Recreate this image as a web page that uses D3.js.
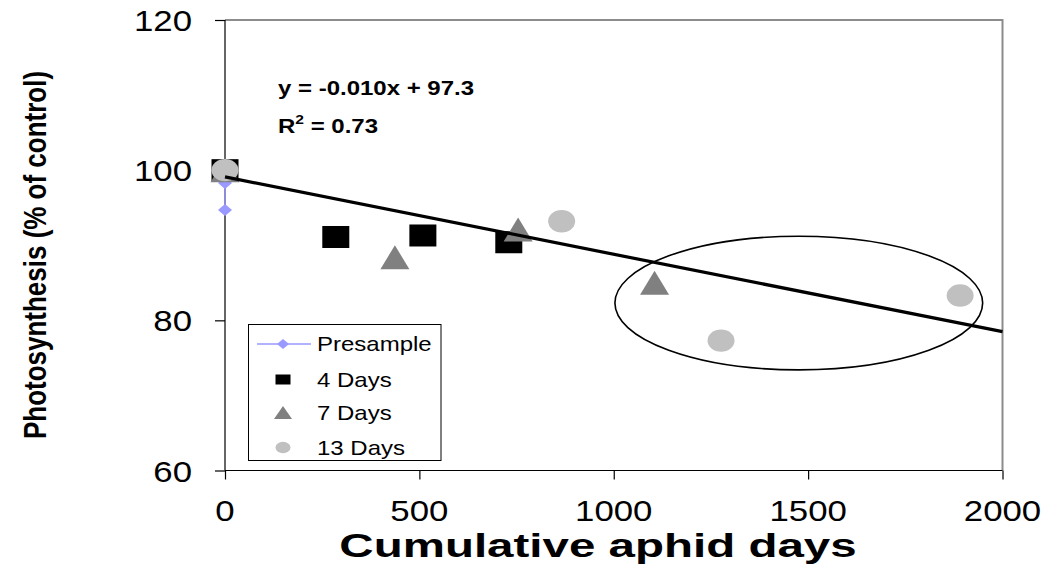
<!DOCTYPE html>
<html>
<head>
<meta charset="utf-8">
<script src="https://cdn.jsdelivr.net/npm/d3@7"></script>
<style>
  html, body { margin: 0; padding: 0; background: #fff; }
  svg { display: block; }
  text { font-family: "Liberation Sans", Arial, sans-serif; fill: #000; }
</style>
</head>
<body>
<svg id="chart" width="1048" height="588"></svg>
<script>
// ---- data ----
const xTicks = [0, 500, 1000, 1500, 2000];
const yTicks = [60, 80, 100, 120];

const presampleX = [0, 0, 0];
const presampleY = [100, 98.3, 94.7];

const days4X = [0, 285, 509, 730];
const days4Y = [100, 91.1, 91.3, 90.4];

const days7X = [0, 437, 754, 1105];
const days7Y = [100, 88.4, 92.1, 85.0];

const days13X = [0, 866, 1276, 1891];
const days13Y = [100, 93.2, 77.3, 83.3];

const trendX = [0, 2000];
const trendY = [99.1, 78.5];

const ellipseCenter = [1476, 82.3];
const ellipseRadii = [473, 8.9];

const seriesNames = ["Presample", "4 Days", "7 Days", "13 Days"];
const equationText = "y = -0.010x + 97.3";
const r2Value = "0.73";
const xTitle = "Cumulative aphid days";
const yTitle = "Photosynthesis (% of control)";

// ---- layout ----
const svg = d3.select("#chart");
const SX = 1.2; // horizontal text stretch of the original picture
const x = d3.scaleLinear().domain([0, 2000]).range([225, 1002.5]);
const y = d3.scaleLinear().domain([60, 120]).range([470.5, 20]);

function stretchedText(g, tx, ty, str, opts) {
  const sx = opts.sx || SX;
  const grp = g.append("g").attr("transform", `translate(${tx},${ty}) scale(${sx},1)` + (opts.rotate ? ` rotate(${opts.rotate})` : ""));
  const t = grp.append("text")
    .attr("x", 0).attr("y", 0)
    .attr("text-anchor", opts.anchor || "start")
    .style("font-size", opts.size + "px")
    .style("font-weight", opts.bold ? "bold" : "normal")
    .text(str);
  return t;
}

// plot frame (top/right gray)
svg.append("path")
  .attr("d", `M${x(0)},${y(120)}H${x(2000)}V${y(60)}`)
  .attr("fill", "none").attr("stroke", "#8c8c8c").attr("stroke-width", 2);

// axes
const xAxis = d3.axisBottom(x).tickValues(xTicks).tickSize(9).tickFormat("");
const yAxis = d3.axisLeft(y).tickValues(yTicks).tickSize(10).tickFormat("");
const gx = svg.append("g").attr("transform", `translate(0,${y(60)})`).call(xAxis);
const gy = svg.append("g").attr("transform", `translate(${x(0)},0)`).call(yAxis);
[gx, gy].forEach(g => {
  g.select(".domain").attr("stroke", "#000").attr("stroke-width", 1.2);
  g.selectAll(".tick line").attr("stroke", "#000").attr("stroke-width", 1.2);
});
gx.select(".domain").attr("d", `M${x(0)},0H${x(2000)}`);
gy.select(".domain").attr("d", `M0,${y(60)}V${y(120)}`);

// tick labels
xTicks.forEach(v => stretchedText(svg, x(v), 521, d3.format("d")(v), { size: 29, anchor: "middle" }));
yTicks.forEach(v => stretchedText(svg, 192, y(v) + 11, d3.format("d")(v), { size: 29, anchor: "end" }));

// axis titles
stretchedText(svg, 598, 557, xTitle, { size: 33, bold: true, anchor: "middle", sx: 1.44 });
stretchedText(svg, 46, 255, yTitle, { size: 26, bold: true, anchor: "middle", rotate: -90 });

// ---- marks ----
const plot = svg.append("g");

// presample line + diamonds
const presamplePts = presampleX.map((v, i) => [v, presampleY[i]]);
plot.append("path")
  .attr("d", d3.line().x(d => x(d[0])).y(d => y(d[1]))(presamplePts))
  .attr("fill", "none").attr("stroke", "#9999ff").attr("stroke-width", 1.5);
const diamond = (cx, cy, w, h) => `M${cx},${cy - h / 2}L${cx + w / 2},${cy}L${cx},${cy + h / 2}L${cx - w / 2},${cy}Z`;
plot.selectAll(".pre").data(presamplePts.slice(1)).join("path")
  .attr("d", d => diamond(x(d[0]), y(d[1]), 14, 12))
  .attr("fill", "#9999ff");

// squares
const sq4 = days4X.map((v, i) => [v, days4Y[i]]);
plot.selectAll(".sq").data(sq4).join("rect")
  .attr("x", d => x(d[0]) - 13.5).attr("y", d => y(d[1]) - 11)
  .attr("width", 27).attr("height", 22)
  .attr("fill", "#000");

// triangles
const tri7 = days7X.map((v, i) => [v, days7Y[i]]);
const triangle = (cx, cy, w, h) => `M${cx},${cy - h / 2}L${cx + w / 2},${cy + h / 2}L${cx - w / 2},${cy + h / 2}Z`;
plot.selectAll(".tri").data(tri7).join("path")
  .attr("d", d => triangle(x(d[0]), y(d[1]), 29, 24))
  .attr("fill", "#808080");

// circles
const c13 = days13X.map((v, i) => [v, days13Y[i]]);
plot.selectAll(".circ").data(c13).join("ellipse")
  .attr("cx", d => x(d[0])).attr("cy", d => y(d[1]))
  .attr("rx", 13.5).attr("ry", 11.2)
  .attr("fill", "#c0c0c0");

// trend line
plot.append("line")
  .attr("x1", x(trendX[0])).attr("y1", y(trendY[0]))
  .attr("x2", x(trendX[1])).attr("y2", y(trendY[1]))
  .attr("stroke", "#000").attr("stroke-width", 3.2);

// highlighted ellipse
plot.append("ellipse")
  .attr("cx", x(ellipseCenter[0])).attr("cy", y(ellipseCenter[1]))
  .attr("rx", x(ellipseCenter[0] + ellipseRadii[0]) - x(ellipseCenter[0]))
  .attr("ry", y(ellipseCenter[1]) - y(ellipseCenter[1] + ellipseRadii[1]))
  .attr("fill", "none").attr("stroke", "#000").attr("stroke-width", 1.6);

// equation
stretchedText(svg, 278, 95, equationText, { size: 20, bold: true });
const r2 = stretchedText(svg, 278, 133, "R", { size: 20, bold: true });
r2.append("tspan").attr("dy", -9).style("font-size", "13px").text("2");
r2.append("tspan").attr("dy", 9).text(" = " + r2Value);

// ---- legend ----
const lg = svg.append("g");
lg.append("rect").attr("x", 248.5).attr("y", 324.5).attr("width", 192.5).attr("height", 136)
  .attr("fill", "#fff").attr("stroke", "#000").attr("stroke-width", 1);
const rowY = [344, 379.5, 412.5, 447.5];
const mx = 283;
lg.append("line").attr("x1", 257).attr("x2", 311).attr("y1", rowY[0]).attr("y2", rowY[0])
  .attr("stroke", "#9999ff").attr("stroke-width", 1.5);
lg.append("path").attr("d", diamond(mx, rowY[0], 12, 10)).attr("fill", "#9999ff");
lg.append("rect").attr("x", mx - 7.5).attr("y", rowY[1] - 5).attr("width", 15).attr("height", 10).attr("fill", "#000");
lg.append("path").attr("d", triangle(mx, rowY[2], 18, 13)).attr("fill", "#808080");
lg.append("ellipse").attr("cx", mx).attr("cy", rowY[3]).attr("rx", 7.5).attr("ry", 5.8).attr("fill", "#c0c0c0");
seriesNames.forEach((n, i) => stretchedText(lg, 317, rowY[i] + 7.2, n, { size: 20 }));
</script>
</body>
</html>
